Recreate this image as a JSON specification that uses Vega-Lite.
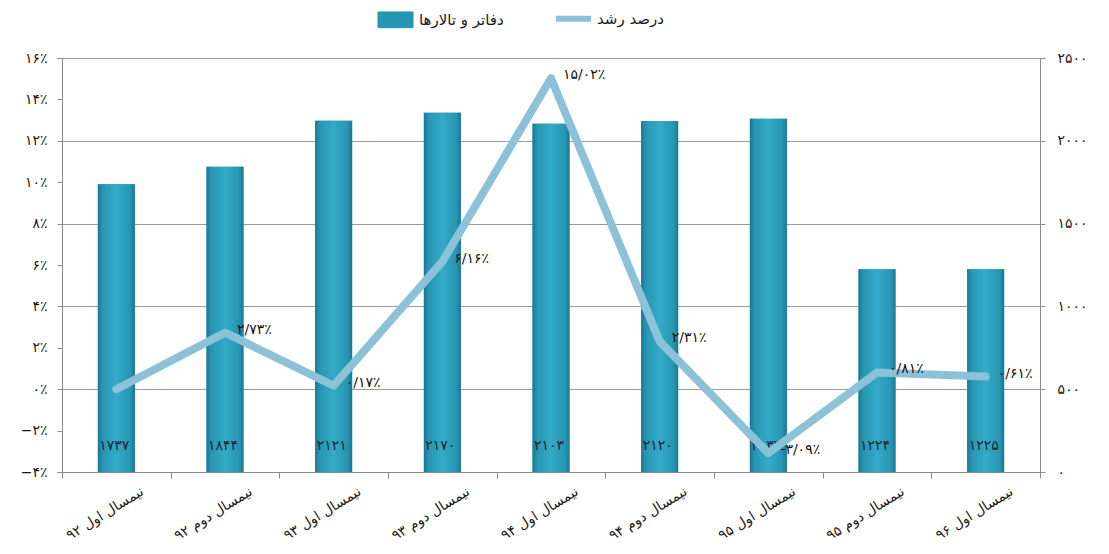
{
  "$schema": "https://vega.github.io/schema/vega-lite/v6.json",
  "width": 978,
  "height": 414,
  "autosize": {"type": "none"},
  "padding": {"left": 62, "top": 58, "right": 69, "bottom": 82},
  "background": "white",
  "config": {
    "view": {"stroke": null},
    "font": "DejaVu Sans",
    "axis": {
      "domainColor": "#8a8a8a",
      "tickColor": "#8a8a8a",
      "gridColor": "#9a9a9a",
      "labelColor": "#1a1a1a",
      "labelFont": "DejaVu Sans",
      "labelFontSize": 14,
      "tickSize": 5
    }
  },
  "data": {
    "values": [
      {"cat": "نیمسال اول ۹۲", "n": 1737, "nl": "۱۷۳۷", "g": 0, "gl": ""},
      {"cat": "نیمسال دوم ۹۲", "n": 1844, "nl": "۱۸۴۴", "g": 2.73, "gl": "۲/۷۳٪"},
      {"cat": "نیمسال اول ۹۳", "n": 2121, "nl": "۲۱۲۱", "g": 0.17, "gl": "۰/۱۷٪"},
      {"cat": "نیمسال دوم ۹۳", "n": 2170, "nl": "۲۱۷۰", "g": 6.16, "gl": "۶/۱۶٪"},
      {"cat": "نیمسال اول ۹۴", "n": 2103, "nl": "۲۱۰۳", "g": 15.02, "gl": "۱۵/۰۲٪"},
      {"cat": "نیمسال دوم ۹۴", "n": 2120, "nl": "۲۱۲۰", "g": 2.31, "gl": "۲/۳۱٪"},
      {"cat": "نیمسال اول ۹۵", "n": 2133, "nl": "۲۱۳۳", "g": -3.09, "gl": "-۳/۰۹٪"},
      {"cat": "نیمسال دوم ۹۵", "n": 1224, "nl": "۱۲۲۴", "g": 0.81, "gl": "۰/۸۱٪"},
      {"cat": "نیمسال اول ۹۶", "n": 1225, "nl": "۱۲۲۵", "g": 0.61, "gl": "۰/۶۱٪"}
    ]
  },
  "encoding": {
    "x": {
      "field": "cat",
      "type": "nominal",
      "sort": null,
      "scale": {"paddingInner": 0, "paddingOuter": 0},
      "axis": {
        "title": null,
        "labelAngle": -32,
        "labelAlign": "right",
        "labelBaseline": "top",
        "labelOffset": 22,
        "labelPadding": 6,
        "labelFontSize": 14,
        "tickBand": "extent",
        "tickSize": 6
      }
    }
  },
  "layer": [
    {
      "layer": [
        {
          "mark": {"type": "bar", "width": {"band": 0.34}},
          "encoding": {
            "y": {
              "field": "n",
              "type": "quantitative",
              "scale": {"domain": [0, 2500], "nice": false},
              "axis": {
                "orient": "right",
                "title": null,
                "values": [0, 500, 1000, 1500, 2000, 2500],
                "grid": true,
                "labelPadding": 12,
                "labelExpr": "replace(replace(replace(replace(replace(replace(replace(replace(replace(replace(format(datum.value,'d'),regexp('0','g'),'۰'),regexp('1','g'),'۱'),regexp('2','g'),'۲'),regexp('3','g'),'۳'),regexp('4','g'),'۴'),regexp('5','g'),'۵'),regexp('6','g'),'۶'),regexp('7','g'),'۷'),regexp('8','g'),'۸'),regexp('9','g'),'۹')"
              }
            },
            "color": {
              "datum": "دفاتر و تالارها",
              "type": "nominal",
              "scale": {
                "domain": ["دفاتر و تالارها", "درصد رشد"],
                "range": ["#2596b4", "#8cc2d8"]
              },
              "legend": {
                "title": null,
                "orient": "none",
                "direction": "horizontal",
                "legendX": 326,
                "legendY": -47,
                "padding": 0,
                "columnPadding": 40,
                "labelFontSize": 15,
                "labelFont": "DejaVu Sans",
                "labelColor": "#1a1a1a",
                "labelOffset": 16,
                "symbolSize": 1225,
                "symbolStrokeWidth": 6,
                "encode": {
                  "symbols": {
                    "update": {
                      "shape": {"signal": "datum.value === 'درصد رشد' ? 'stroke' : 'M-1,-0.45H1V0.45H-1Z'"},
                      "fill": {"signal": "datum.value === 'درصد رشد' ? 'transparent' : '#2596b4'"},
                      "stroke": {"signal": "datum.value === 'درصد رشد' ? '#8cc2d8' : '#1b7a92'"},
                      "strokeWidth": {"signal": "datum.value === 'درصد رشد' ? 6 : 1"},
                      "opacity": {"value": 1}
                    }
                  }
                }
              }
            }
          }
        },
        {
          "mark": {
            "type": "bar",
            "width": {"band": 0.34},
            "fill": {
              "gradient": "linear",
              "x1": 0, "x2": 1, "y1": 0, "y2": 0,
              "stops": [
                {"offset": 0, "color": "#1a7790"},
                {"offset": 0.12, "color": "#2795b2"},
                {"offset": 0.5, "color": "#33abc8"},
                {"offset": 0.88, "color": "#2795b2"},
                {"offset": 1, "color": "#1a7790"}
              ]
            }
          },
          "encoding": {
            "y": {"field": "n", "type": "quantitative", "scale": {"domain": [0, 2500], "nice": false}}
          }
        },
        {
          "mark": {"type": "text", "fontSize": 14, "color": "#1b2430", "baseline": "middle", "align": "center", "dx": -2},
          "encoding": {
            "y": {"datum": 160, "type": "quantitative", "scale": {"domain": [0, 2500], "nice": false}},
            "text": {"field": "nl"}
          }
        }
      ]
    },
    {
      "layer": [
        {
          "mark": {"type": "line", "strokeWidth": 8, "strokeCap": "round", "strokeJoin": "round"},
          "encoding": {
            "y": {
              "field": "g",
              "type": "quantitative",
              "scale": {"domain": [-4, 16], "nice": false, "zero": false},
              "axis": {
                "orient": "left",
                "title": null,
                "values": [-4, -2, 0, 2, 4, 6, 8, 10, 12, 14, 16],
                "grid": false,
                "labelPadding": 10,
                "labelExpr": "replace(replace(replace(replace(replace(replace(replace(replace(replace(replace(format(datum.value,'d'),regexp('0','g'),'۰'),regexp('1','g'),'۱'),regexp('2','g'),'۲'),regexp('3','g'),'۳'),regexp('4','g'),'۴'),regexp('5','g'),'۵'),regexp('6','g'),'۶'),regexp('7','g'),'۷'),regexp('8','g'),'۸'),regexp('9','g'),'۹') + '٪'"
              }
            },
            "color": {"datum": "درصد رشد", "type": "nominal"}
          }
        },
        {
          "mark": {"type": "text", "fontSize": 14, "color": "#111111", "align": "left", "baseline": "middle", "dx": 12, "dy": -3},
          "encoding": {
            "y": {"field": "g", "type": "quantitative", "scale": {"domain": [-4, 16], "nice": false, "zero": false}},
            "text": {"field": "gl"}
          }
        }
      ]
    }
  ],
  "resolve": {"scale": {"y": "independent"}}
}
